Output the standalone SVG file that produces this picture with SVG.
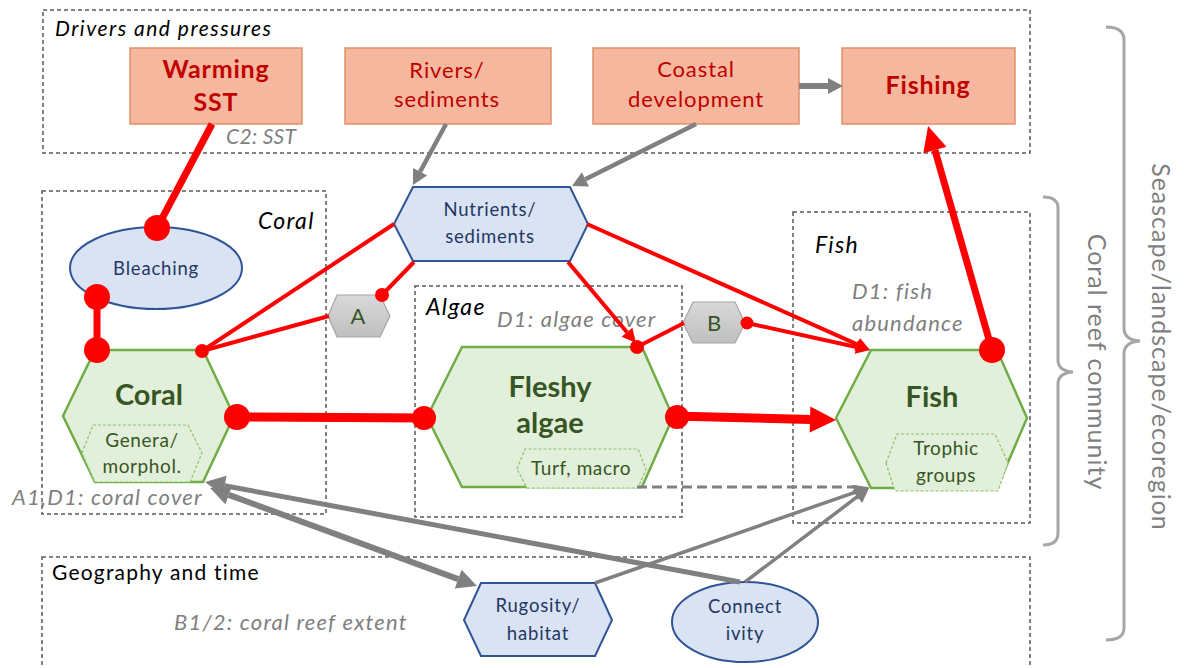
<svg xmlns="http://www.w3.org/2000/svg" width="1188" height="668" viewBox="0 0 1188 668">
<style>
  text { font-family: Lato, "Liberation Sans", sans-serif; }
  .grp { fill: none; stroke: #595959; stroke-width: 1.5; stroke-dasharray: 4 3; }
  .lab { font-style: italic; font-size: 23px; letter-spacing: 1.3px; fill: #000; }
  .note { font-style: italic; font-size: 22px; letter-spacing: 1.2px; fill: #7f7f7f; }
  .drv { fill: #f5b89e; stroke: #e0906a; stroke-width: 1.5; }
  .drvt { font-size: 22px; letter-spacing: 0.9px; fill: #c00000; text-anchor: middle; }
  .drvb { font-size: 25px; letter-spacing: 0.8px; font-weight: bold; fill: #c00000; text-anchor: middle; }
  .blue { fill: #dae3f3; stroke: #2f5597; stroke-width: 2; }
  .bluet { font-size: 18.5px; letter-spacing: 0.8px; fill: #1f3864; text-anchor: middle; }
  .green { fill: #e2efda; stroke: #70ad47; stroke-width: 2.5; }
  .inner { fill: #e2efda; stroke: #8cc16a; stroke-width: 1.2; stroke-dasharray: 3 2; }
  .gt { font-size: 29px; font-weight: bold; fill: #375623; text-anchor: middle; }
  .gs { font-size: 19px; letter-spacing: 0.6px; fill: #375623; text-anchor: middle; }
  .gray { fill: url(#gg); stroke: #a5a5a5; stroke-width: 1.2; }
  .grayt { font-size: 22px; fill: #375623; text-anchor: middle; }
  .red { stroke: #ff0000; fill: none; stroke-linecap: butt; }
  .dot { fill: #ff0000; }
  .garr { stroke: #808080; fill: none; }
  .brace { fill: none; stroke: #a6a6a6; stroke-width: 3; }
  .side { font-size: 25px; letter-spacing: 1px; fill: #7f7f7f; text-anchor: middle; }
</style>
<defs>
  <linearGradient id="gg" x1="0" y1="0" x2="0" y2="1">
    <stop offset="0" stop-color="#d9d9d9"/>
    <stop offset="1" stop-color="#bfbfbf"/>
  </linearGradient>
  <marker id="redBig" markerUnits="userSpaceOnUse" orient="auto" refX="0" refY="0" markerWidth="30" markerHeight="30" overflow="visible">
    <path d="M0,-13 L26,0 L0,13 z" fill="#ff0000"/>
  </marker>
  <marker id="redMid" markerUnits="userSpaceOnUse" orient="auto" refX="0" refY="0" markerWidth="30" markerHeight="30" overflow="visible">
    <path d="M0,-12 L25,0 L0,12 z" fill="#ff0000"/>
  </marker>
  <marker id="redSm" markerUnits="userSpaceOnUse" orient="auto" refX="0" refY="0" markerWidth="20" markerHeight="20" overflow="visible">
    <path d="M0,-7 L14,0 L0,7 z" fill="#ff0000"/>
  </marker>
  <marker id="grayMd" markerUnits="userSpaceOnUse" orient="auto" refX="0" refY="0" markerWidth="20" markerHeight="20" overflow="visible">
    <path d="M0,-8 L15,0 L0,8 z" fill="#808080"/>
  </marker>
  <marker id="grayBig" markerUnits="userSpaceOnUse" orient="auto-start-reverse" refX="0" refY="0" markerWidth="24" markerHeight="24" overflow="visible">
    <path d="M0,-10 L20,0 L0,10 z" fill="#808080"/>
  </marker>
</defs>

<rect x="0" y="0" width="1188" height="668" fill="#ffffff"/>

<!-- Group boxes -->
<g id="drivers-box">
  <rect class="grp" x="43" y="10" width="987" height="143"/>
  <text class="lab" x="55" y="36" style="font-size:21px;letter-spacing:1.5px">Drivers and pressures</text>
  <text class="note" x="226" y="144" style="font-size:21px;letter-spacing:0.3px">C2: SST</text>
</g>
<g id="coral-box">
  <rect class="grp" x="42" y="191" width="284" height="323"/>
  <text class="lab" x="258" y="229">Coral</text>
  <text class="note" x="12" y="505">A1,D1: coral cover</text>
</g>
<g id="algae-box">
  <rect class="grp" x="415" y="286" width="267" height="231"/>
  <text class="lab" x="426" y="315">Algae</text>
  <text class="note" x="497" y="327">D1: algae cover</text>
</g>
<g id="fish-box">
  <rect class="grp" x="793" y="212" width="237" height="311"/>
  <text class="lab" x="815" y="253">Fish</text>
  <text class="note" x="852" y="299">D1: fish</text>
  <text class="note" x="852" y="331">abundance</text>
</g>
<g id="geography-box">
  <rect class="grp" x="42" y="557" width="988" height="130"/>
  <text x="52" y="580" style="font-size:21px;letter-spacing:1.2px" fill="#000">Geography and time</text>
  <text class="note" x="174" y="630">B1/2: coral reef extent</text>
</g>

<!-- Nodes -->
<g id="warming">
  <rect class="drv" x="130" y="48" width="172" height="76"/>
  <text class="drvb" x="216" y="78">Warming</text>
  <text class="drvb" x="216" y="111">SST</text>
</g>
<g id="rivers">
  <rect class="drv" x="345" y="48" width="206" height="76"/>
  <text class="drvt" x="447" y="78">Rivers/</text>
  <text class="drvt" x="447" y="107">sediments</text>
</g>
<g id="coastal">
  <rect class="drv" x="593" y="48" width="206" height="76"/>
  <text class="drvt" x="696" y="77">Coastal</text>
  <text class="drvt" x="696" y="107">development</text>
</g>
<g id="fishing">
  <rect class="drv" x="842" y="48" width="173" height="76"/>
  <text class="drvb" x="928" y="94">Fishing</text>
</g>
<g id="nutrients">
  <polygon class="blue" points="394,224 413,187 570,187 588,224 570,261 413,261"/>
  <text class="bluet" x="490" y="216">Nutrients/</text>
  <text class="bluet" x="490" y="243">sediments</text>
</g>
<g id="bleaching">
  <ellipse class="blue" cx="156" cy="268" rx="86" ry="41"/>
  <text class="bluet" x="156" y="275">Bleaching</text>
</g>
<g id="coral">
  <polygon class="green" points="63,416 95,350 203,350 234,416 203,482 95,482"/>
  <text class="gt" x="149" y="405">Coral</text>
  <polygon class="inner" points="82,453 93,425 188,425 202,453 190,482 95,482"/>
  <text class="gs" x="142" y="447">Genera/</text>
  <text class="gs" x="142" y="473">morphol.</text>
</g>
<g id="node-a">
  <polygon class="gray" points="328,316 337,295 380,295 390,316 380,337 337,337"/>
  <text class="grayt" x="358" y="324">A</text>
</g>
<g id="fleshy-algae">
  <polygon class="green" points="427,417 462,347 642,347 673,417 642,487 462,487"/>
  <text class="gt" x="550" y="397">Fleshy</text>
  <text class="gt" x="550" y="433">algae</text>
  <polygon class="inner" points="517,469 525,449 638,449 646,469 638,488 527,488"/>
  <text class="gs" x="581" y="475">Turf, macro</text>
</g>
<g id="node-b">
  <polygon class="gray" points="683,323 693,302 735,302 745,323 735,343 693,343"/>
  <text class="grayt" x="714" y="331">B</text>
</g>
<g id="fish">
  <polygon class="green" points="836,418 871,350 997,350 1027,418 997,488 871,488"/>
  <text class="gt" x="932" y="407">Fish</text>
  <polygon class="inner" points="886,463 897,434 995,434 1008,463 998,491 895,491"/>
  <text class="gs" x="946" y="455">Trophic</text>
  <text class="gs" x="946" y="482">groups</text>
</g>
<g id="rugosity">
  <polygon class="blue" points="464,620 481,583 595,583 612,620 595,656 481,656"/>
  <text class="bluet" x="538" y="612">Rugosity/</text>
  <text class="bluet" x="538" y="640">habitat</text>
</g>
<g id="connectivity">
  <ellipse class="blue" cx="745" cy="622" rx="73" ry="40"/>
  <text class="bluet" x="745" y="613">Connect</text>
  <text class="bluet" x="745" y="640">ivity</text>
</g>

<!-- Connectors -->
<g id="connectors">
  <line class="garr" x1="446" y1="124" x2="420.1" y2="171.8" stroke-width="4.5" marker-end="url(#grayMd)"/>
  <line class="garr" x1="696" y1="124" x2="585.4" y2="179.3" stroke-width="4.5" marker-end="url(#grayMd)"/>
  <line class="garr" x1="799" y1="86" x2="828" y2="86" stroke-width="6" marker-end="url(#grayMd)"/>
  <line class="garr" x1="740" y1="582" x2="224.7" y2="485.7" stroke-width="5" marker-end="url(#grayBig)"/>
  <line class="garr" x1="458.2" y1="579.1" x2="228.8" y2="494.9" stroke-width="6" marker-start="url(#grayBig)" marker-end="url(#grayBig)"/>
  <line class="garr" x1="595" y1="583" x2="854.9" y2="492.3" stroke-width="3.5" marker-end="url(#grayMd)"/>
  <line class="garr" x1="745" y1="582" x2="857.3" y2="496.7" stroke-width="3.5" marker-end="url(#grayMd)"/>
  <line class="garr" x1="637" y1="487" x2="862" y2="487" stroke-width="3" stroke-dasharray="10 5"/>

  <line class="red" x1="212" y1="124" x2="157" y2="228" stroke-width="7"/>
  <circle class="dot" cx="157" cy="228" r="13"/>
  <line class="red" x1="97" y1="297" x2="97" y2="350" stroke-width="7"/>
  <circle class="dot" cx="97" cy="297" r="13"/>
  <circle class="dot" cx="97" cy="350" r="13"/>

  <line class="red" x1="394" y1="224" x2="202" y2="351" stroke-width="4"/>
  <line class="red" x1="329" y1="316" x2="202" y2="351" stroke-width="4"/>
  <circle class="dot" cx="202" cy="351" r="7"/>
  <line class="red" x1="414" y1="262" x2="382" y2="295" stroke-width="4"/>
  <circle class="dot" cx="382" cy="295" r="7"/>

  <line class="red" x1="568" y1="262" x2="627" y2="332.3" stroke-width="4" marker-end="url(#redSm)"/>
  <line class="red" x1="684" y1="323" x2="637" y2="347" stroke-width="4"/>
  <circle class="dot" cx="637" cy="347" r="7"/>

  <line class="red" x1="587" y1="224" x2="857.2" y2="344.3" stroke-width="4" marker-end="url(#redSm)"/>
  <line class="red" x1="747" y1="323" x2="856.3" y2="347" stroke-width="4" marker-end="url(#redSm)"/>
  <circle class="dot" cx="747" cy="323" r="6.5"/>

  <line class="red" x1="236" y1="417" x2="427" y2="418" stroke-width="9"/>
  <circle class="dot" cx="237" cy="417" r="13"/>
  <circle class="dot" cx="424" cy="418" r="12"/>

  <line class="red" x1="673" y1="416" x2="810" y2="419.4" stroke-width="9" marker-end="url(#redBig)"/>
  <circle class="dot" cx="677" cy="417" r="12"/>

  <line class="red" x1="992" y1="350" x2="934.9" y2="150" stroke-width="7" marker-end="url(#redMid)"/>
  <circle class="dot" cx="992" cy="350" r="13"/>
</g>

<!-- Scale braces -->
<g id="brace-seascape">
  <path class="brace" d="M1106,27 Q1124,27 1124,40 L1124,328 Q1124,340 1140,341 Q1124,342 1124,354 L1124,628 Q1124,640 1106,640"/>
  <text class="side" transform="translate(1152,347) rotate(90)">Seascape/landscape/ecoregion</text>
</g>
<g id="brace-community">
  <path class="brace" d="M1043,197 Q1058,197 1058,208 L1058,360 Q1058,371 1073,372 Q1058,373 1058,384 L1058,533 Q1058,545 1043,545"/>
  <text class="side" transform="translate(1088,362) rotate(90)">Coral reef community</text>
</g>
</svg>
